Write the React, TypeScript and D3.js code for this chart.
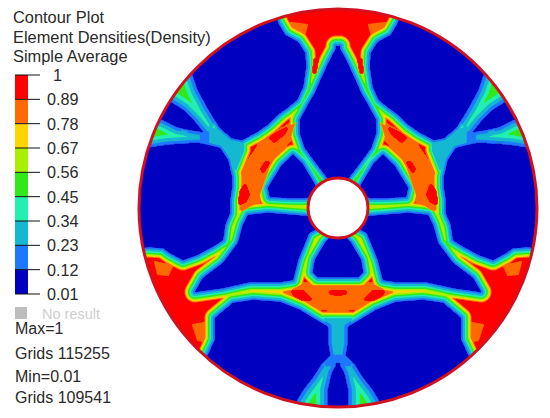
import React, { useMemo } from "react";
import * as d3 from "d3";

type Pt = [number, number];

const titleLines = ["Contour Plot", "Element Densities(Density)", "Simple Average"];
const tickLabels = ["1", "0.89", "0.78", "0.67", "0.56", "0.45", "0.34", "0.23", "0.12", "0.01"];
const bandColors = ["#ff0000", "#ff6a00", "#ffd500", "#a8f000", "#30e81a", "#22f0b0", "#14b8d0", "#1e78ff", "#0000c0"];
const thresholds = [0.12, 0.23, 0.34, 0.45, 0.56, 0.67, 0.78, 0.89];
// Distance from a void's edge (px) at which each threshold is reached
const profileDistances = [0, 2, 4, 5.5, 7, 8.5, 9.5, 10.5];
const statLines = ["Max=1", "Grids 115255", "Min=0.01", "Grids 109541"];

// Void (dark blue) pockets of the left half; the right half is their mirror image
const pockets: Pt[][] = [
  [[278,23],[285,35],[298,42],[305,53],[306,67],[303,87],[297,100],[287,108],[280,113],[267,125],[257,132],[242,140],[232,138],[220,128],[207,107],[198,90],[192,73],[176,61],[215,20],[271,1]],
  [[172,103],[183,110],[195,122],[203,132],[190,130],[177,127],[163,120],[140,115],[150,90]],
  [[148,148],[167,145],[197,143],[208,145],[220,148],[228,160],[232,177],[232,187],[230,200],[230,213],[225,225],[223,240],[212,247],[197,255],[183,260],[170,253],[163,248],[147,247],[120,255],[115,200],[125,145]],
  [[293,155],[282,165],[274,178],[268,188],[270,197],[292,198],[305,198],[318,195],[315,185],[302,163]],
  [[248,215],[268,213],[305,216],[320,218],[318,228],[309,233],[298,260],[293,280],[280,282],[250,282],[223,288],[195,292],[203,278],[223,263],[238,243],[243,225]],
  [[340,236],[330,238],[325,243],[315,260],[313,272],[318,277],[345,277]],
  [[340,46],[337,47],[330,60],[322,77],[315,93],[308,105],[300,120],[300,133],[305,148],[316,163],[329,180],[340,188]],
  [[208,355],[215,340],[215,318],[233,303],[253,300],[280,302],[300,310],[313,318],[328,327],[328,343],[330,355],[322,363],[313,377],[303,390],[295,403],[288,420],[240,400],[195,370]],
  [[340,363],[337,364],[332,373],[328,390],[328,405],[326,420],[340,420]],
];

// Low-density branches: gradient per pixel and highest density reached
const slowZones: { poly: Pt[]; slope: number; cap: number }[] = [
  { poly: [[170,60],[194,76],[202,100],[215,120],[209,132],[198,128],[185,118],[165,105],[150,95]], slope: 0.03, cap: 0.53 },
  { poly: [[135,120],[165,122],[185,133],[200,131],[200,146],[170,148],[135,155]], slope: 0.032, cap: 0.52 },
  { poly: [[200,130],[209,132],[209,146],[200,144]], slope: 0.03, cap: 0.2 },
  { poly: [[209,126],[232,138],[244,140],[244,150],[236,170],[224,155],[209,146]], slope: 0.05, cap: 0.31 },
  { poly: [[325,318],[351,318],[351,355],[325,355]], slope: 0.03, cap: 0.33 },
  { poly: [[325,355],[351,355],[351,366],[325,366]], slope: 0.03, cap: 0.2 },
  { poly: [[290,420],[300,385],[318,366],[338,366],[338,420]], slope: 0.028, cap: 0.55 },
];

// Areas held at a ceiling density (small orange islands, yellow-green necks)
const capZones: { poly: Pt[]; cap: number }[] = [
  { poly: [[291,23],[307,25],[304,36],[294,36]], cap: 0.8 },
  { poly: [[155,262],[172,266],[168,275],[158,274]], cap: 0.8 },
  { poly: [[193,325],[204,323],[204,341],[198,340]], cap: 0.8 },
  { poly: [[268,198],[312,198],[312,216],[268,216]], cap: 0.68 },
  { poly: [[246,284],[282,282],[282,302],[246,300]], cap: 0.68 },
];

// Large orange cores
const orangeCores: Pt[][] = [
  [[296,122],[262,143],[246,168],[238,198],[241,212],[256,204],[262,190],[272,160],[292,135]],
  [[287,292],[300,285],[376,285],[389,292],[360,306],[338,309],[316,306]],
];
const ORANGE = 0.84;

// Red islands inside the orange cores, drawn with a small rounded margin
const hotSpots: Pt[][] = [
  [[286,129],[283,134],[274,141],[271,138],[278,133]],
  [[268,163],[263,171],[262,169],[266,163]],
  [[245,186],[248,195],[245,201],[240,203],[241,192]],
  [[293,292],[303,292],[310,299],[303,299],[296,296]],
  [[331,292],[338,292],[345,293],[338,294]],
  [[315,60],[317,60],[315,72],[314,72]],
];
const HOT_MARGIN = 2;

const CX = 338, CY = 208, R = 199, HOLE = 30;
const RATE = 0.085, BASE = 0.12;
const mirror = (p: Pt[]): Pt[] => p.map(([x, y]) => [2 * CX - x, y] as Pt);
const both = (list: Pt[][]) => list.flatMap((p) => [p, mirror(p)]);

function distTo(poly: Pt[], x: number, y: number): number {
  let best = Infinity;
  let inside = false;
  for (let i = 0, j = poly.length - 1; i < poly.length; j = i++) {
    const ax = poly[j][0], ay = poly[j][1], bx = poly[i][0], by = poly[i][1];
    if ((by > y) !== (ay > y) && x < ((ax - bx) * (y - by)) / (ay - by) + bx) inside = !inside;
    const dx = bx - ax, dy = by - ay;
    let t = ((x - ax) * dx + (y - ay) * dy) / (dx * dx + dy * dy);
    t = t < 0 ? 0 : t > 1 ? 1 : t;
    const ex = ax + t * dx - x, ey = ay + t * dy - y;
    const d2 = ex * ex + ey * ey;
    if (d2 < best) best = d2;
  }
  return inside ? 0 : Math.sqrt(best);
}

function buildField(x0: number, y0: number, w: number, h: number): number[] {
  const voids = both(pockets);
  const slows = slowZones.flatMap((z) => [z, { ...z, poly: mirror(z.poly) }]);
  const caps = capZones.flatMap((z) => [z, { ...z, poly: mirror(z.poly) }]);
  const cores = both(orangeCores);
  const hots = both(hotSpots);
  const profile = d3.scaleLinear().domain(profileDistances).range(thresholds);
  const out = new Array<number>(w * h).fill(-1);
  for (let j = 0; j < h; j++) {
    for (let i = 0; i < w; i++) {
      const x = x0 + i + 0.5, y = y0 + j + 0.5;
      if (Math.hypot(x - CX, y - CY) > R + 3) continue;
      let d = Infinity;
      for (const p of voids) {
        d = Math.min(d, distTo(p, x, y));
        if (d === 0) break;
      }
      if (d === 0) { out[j * w + i] = 0.05; continue; }
      let v = Math.min(1, profile(d));
      for (const z of slows) {
        const zd = distTo(z.poly, x, y);
        v = Math.min(v, Math.min(BASE + z.slope * d, z.cap) + RATE * zd);
      }
      for (const z of caps) v = Math.min(v, z.cap + RATE * distTo(z.poly, x, y));
      for (const p of cores) {
        const cd = distTo(p, x, y);
        if (cd === 0) v = ORANGE;
        else if (cd < 3 && v > ORANGE) v = ORANGE;
      }
      for (const p of hots) if (distTo(p, x, y) <= HOT_MARGIN) v = Math.max(v, 0.95);
      out[j * w + i] = v;
    }
  }
  return out;
}

const FONT = "'Liberation Sans', Arial, sans-serif";
const TEXT = "#2a2a2a";
const RIM = "#d2101e";

export default function App() {
  const x0 = 134, y0 = 4, w = 408, h = 408;
  const contours = useMemo(() => {
    const field = buildField(x0, y0, w, h);
    return d3.contours().size([w, h]).thresholds(thresholds)(field);
  }, []);
  const path = d3.geoPath();
  const color = d3.scaleThreshold<number, string>().domain(thresholds).range([...bandColors].reverse());
  const legendY = d3.scalePoint<string>().domain(tickLabels).range([75, 294]);
  const bands = tickLabels.slice(0, -1);
  const ring = d3.arc()({ innerRadius: HOLE, outerRadius: R, startAngle: 0, endAngle: 2 * Math.PI }) as string;
  return (
    <svg width={550} height={418} style={{ position: "fixed", left: 0, top: 0, background: "#fff" }} fontFamily={FONT}>
      <defs>
        <clipPath id="ring"><path d={ring} transform={`translate(${CX},${CY})`} clipRule="evenodd" /></clipPath>
      </defs>
      {titleLines.map((t, i) => (
        <text key={t} x={13} y={23 + i * 19.5} fontSize={16.4} fill={TEXT}>{t}</text>
      ))}
      {bands.map((t, i) => (
        <rect key={t} x={15} width={13} y={legendY(t)} height={(legendY(tickLabels[i + 1]) as number) - (legendY(t) as number)} fill={bandColors[i]} />
      ))}
      {tickLabels.map((t) => (
        <g key={t}>
          <line x1={15} x2={40} y1={legendY(t)} y2={legendY(t)} stroke="#111" strokeWidth={1} />
          <text x={t === "1" ? 53 : 47} y={(legendY(t) as number) + 6} fontSize={16.2} fill={TEXT}>{t}</text>
        </g>
      ))}
      <rect x={15} y={307} width={12} height={12} fill="#bdbdbd" />
      <text x={42} y={319} fontSize={14.5} fill="#cfcfcf">No result</text>
      {statLines.map((t, i) => (
        <text key={t} x={15} y={[334, 359, 382, 403][i]} fontSize={16} fill={TEXT}>{t}</text>
      ))}
      <g clipPath="url(#ring)">
        <circle cx={CX} cy={CY} r={R} fill={color(0)} />
        <g transform={`translate(${x0},${y0})`}>
          {contours.map((c) => (
            <path key={c.value} d={path(c) as string} fill={color(c.value)} />
          ))}
        </g>
      </g>
      <circle cx={CX} cy={CY} r={R} fill="none" stroke={RIM} strokeWidth={3} />
      <circle cx={CX} cy={CY} r={HOLE} fill="#fff" stroke={RIM} strokeWidth={3} />
    </svg>
  );
}
